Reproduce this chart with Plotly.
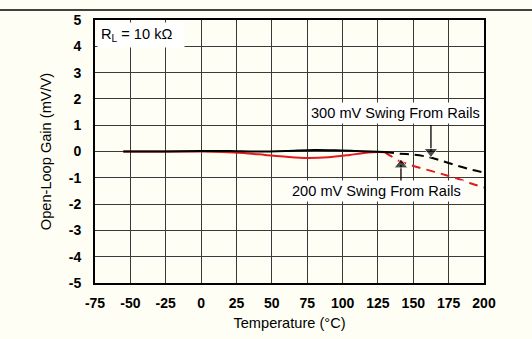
import plotly.graph_objects as go

# Open-loop gain drift vs temperature, two output-swing conditions
temp_solid_300 = [-55, -25, 0, 20, 40, 60, 80, 95, 110, 120, 130]
gain_solid_300 = [0.0, 0.0, 0.02, 0.02, 0.0, 0.02, 0.06, 0.05, 0.02, 0.0, -0.02]
temp_dash_300 = [130, 140, 150, 160, 170, 180, 190, 200]
gain_dash_300 = [-0.02, -0.08, -0.12, -0.2, -0.35, -0.52, -0.68, -0.8]

temp_solid_200 = [-55, -25, 0, 15, 30, 45, 60, 75, 90, 105, 115, 125, 130]
gain_solid_200 = [0.0, 0.0, 0.0, -0.02, -0.06, -0.13, -0.2, -0.25, -0.22, -0.13, -0.06, -0.02, -0.03]
temp_dash_200 = [130, 135, 140, 150, 160, 170, 180, 190, 200]
gain_dash_200 = [-0.03, -0.2, -0.36, -0.55, -0.7, -0.85, -1.01, -1.2, -1.37]

x_ticks = [-75, -50, -25, 0, 25, 50, 75, 100, 125, 150, 175, 200]
y_ticks = [-5, -4, -3, -2, -1, 0, 1, 2, 3, 4, 5]
x_labels = [str(v) for v in x_ticks]
y_labels = [str(v) for v in y_ticks]

# label pointers: shaft from label edge to the arrowhead
arrow_300_x = [162.5, 162.5]
arrow_300_y = [1.01, 0.0]
arrow_200_x = [141.3, 141.3]
arrow_200_y = [-1.21, -0.51]

RED = "#E3191F"
BLACK = "#000000"
BG = "#FEFEF4"
FONT = "Liberation Sans, Arial, sans-serif"

fig = go.Figure()

fig.add_trace(go.Scatter(x=temp_solid_200, y=gain_solid_200, mode="lines",
                         line=dict(color=RED, width=2, shape="spline", smoothing=0.8)))
fig.add_trace(go.Scatter(x=temp_dash_200, y=gain_dash_200, mode="lines",
                         line=dict(color=RED, width=2, dash="9px,6px", shape="spline", smoothing=0.6)))
fig.add_trace(go.Scatter(x=temp_solid_300, y=gain_solid_300, mode="lines",
                         line=dict(color=BLACK, width=2, shape="spline", smoothing=0.8)))
fig.add_trace(go.Scatter(x=temp_dash_300, y=gain_dash_300, mode="lines",
                         line=dict(color=BLACK, width=2, dash="9px,6px", shape="spline", smoothing=0.6)))

# pointer arrows
fig.add_trace(go.Scatter(x=arrow_300_x, y=arrow_300_y, mode="lines+markers",
                         line=dict(color=BLACK, width=1.3),
                         marker=dict(symbol="triangle-down", size=[0, 12], color=BLACK)))
fig.add_trace(go.Scatter(x=arrow_200_x, y=arrow_200_y, mode="lines+markers",
                         line=dict(color=BLACK, width=1.3),
                         marker=dict(symbol="triangle-up", size=[0, 12], color=BLACK)))

txt = dict(family=FONT, size=14.6, color=BLACK)

axis_common = dict(
    showgrid=True, gridcolor="#3a3a3a", gridwidth=1,
    showline=True, linecolor=BLACK, linewidth=2, mirror=True,
    zeroline=False, ticks="", automargin=False,
    tickfont=dict(family=FONT, size=14, color=BLACK, weight="bold"),
)

fig.update_xaxes(range=[-75, 200], tickvals=x_ticks, ticktext=x_labels,
                 ticklabelstandoff=6,
                 title=dict(text="Temperature (°C)", font=txt, standoff=8),
                 **axis_common)
fig.update_yaxes(range=[-5, 5], tickvals=y_ticks, ticktext=y_labels,
                 ticklabelstandoff=9,
                 title=dict(text="Open-Loop Gain (mV/V)", font=txt, standoff=14),
                 **axis_common)

annotations = [
    # load condition
    dict(text="R<sub>L</sub> = 10 kΩ", xref="paper", yref="paper", x=0, y=1,
         xanchor="left", yanchor="top", xshift=2, yshift=-2, showarrow=False,
         bgcolor="#FFFFFF", borderpad=3, width=80, align="left", font=txt),
    # curve labels
    dict(text="300 mV Swing From Rails", x=137.4, y=1.46, xanchor="center", yanchor="middle",
         showarrow=False, bgcolor="#FFFFFF", borderpad=2, font=txt),
    dict(text="200 mV Swing From Rails", x=124.1, y=-1.5, xanchor="center", yanchor="middle",
         showarrow=False, bgcolor="#FFFFFF", borderpad=2, font=txt),
]

fig.update_layout(
    width=532, height=339,
    margin=dict(l=95, r=48, t=20, b=56),
    paper_bgcolor=BG, plot_bgcolor=BG,
    showlegend=False,
    annotations=annotations,
    shapes=[dict(type="line", xref="paper", yref="paper",
                 x0=-95 / 389, x1=437 / 389, y0=273 / 263, y1=273 / 263,
                 line=dict(color=BLACK, width=1.5))],
)

fig.write_html("out.html")
